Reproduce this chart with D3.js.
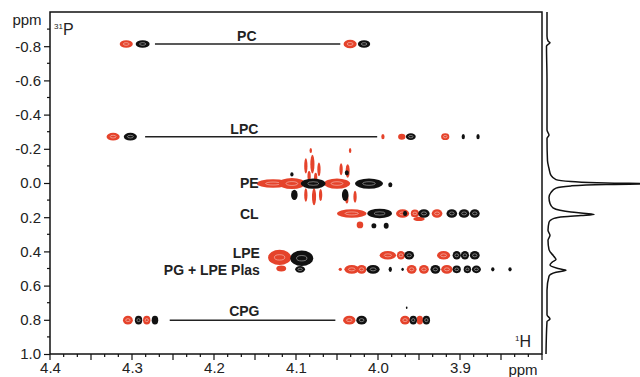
<!DOCTYPE html>
<html>
<head>
<meta charset="utf-8">
<script src="https://cdn.jsdelivr.net/npm/d3@7"></script>
<style>
  body { margin: 0; background: #fff; }
  svg { display: block; font-family: "Liberation Sans", Arial, sans-serif; }
</style>
</head>
<body>
<div id="chart"></div>
<script>
// 1H ppm, 31P ppm, 1H linewidth, 31P linewidth
const redPeaks = [
  [4.307, -0.813, 0.016, 0.045], [4.034, -0.813, 0.016, 0.05],
  [4.323, -0.271, 0.016, 0.045], [3.994, -0.271, 0.004, 0.03], [3.971, -0.271, 0.009, 0.035], [3.918, -0.271, 0.010, 0.04],
  [4.128, 0.003, 0.040, 0.05], [4.105, 0.003, 0.032, 0.065],
  [4.088, -0.10, 0.004, 0.09], [4.080, -0.11, 0.005, 0.11], [4.072, -0.08, 0.004, 0.08],
  [4.084, -0.04, 0.004, 0.06], [4.076, -0.03, 0.004, 0.06],
  [4.088, 0.07, 0.004, 0.08], [4.078, 0.08, 0.005, 0.10], [4.070, 0.07, 0.004, 0.07],
  [4.082, -0.19, 0.003, 0.03], [4.034, -0.19, 0.003, 0.03],
  [4.050, 0.003, 0.032, 0.06], [4.045, -0.08, 0.004, 0.07], [4.037, -0.07, 0.005, 0.08],
  [4.028, 0.08, 0.004, 0.07], [4.038, 0.09, 0.004, 0.06],
  [4.032, 0.178, 0.036, 0.05], [3.970, 0.178, 0.016, 0.05], [3.955, 0.178, 0.010, 0.045], [3.928, 0.178, 0.013, 0.05],
  [4.022, 0.245, 0.008, 0.04], [3.950, 0.21, 0.014, 0.025],
  [4.120, 0.435, 0.028, 0.09], [4.118, 0.50, 0.012, 0.035],
  [3.988, 0.423, 0.020, 0.05], [3.972, 0.423, 0.010, 0.05], [3.920, 0.423, 0.016, 0.05],
  [4.046, 0.505, 0.004, 0.02], [4.032, 0.505, 0.018, 0.05], [4.020, 0.505, 0.012, 0.05],
  [3.959, 0.505, 0.012, 0.05], [3.944, 0.505, 0.012, 0.05], [3.916, 0.505, 0.014, 0.05],
  [4.305, 0.802, 0.012, 0.05], [4.282, 0.802, 0.009, 0.05], [4.035, 0.802, 0.015, 0.05],
  [3.967, 0.802, 0.012, 0.05], [3.949, 0.802, 0.008, 0.05]
];
const blackPeaks = [
  [4.287, -0.813, 0.017, 0.045], [4.017, -0.813, 0.015, 0.045],
  [4.302, -0.271, 0.016, 0.045], [3.960, -0.271, 0.012, 0.04], [3.896, -0.271, 0.004, 0.03], [3.878, -0.271, 0.004, 0.03],
  [4.079, 0.003, 0.030, 0.06], [4.011, 0.003, 0.034, 0.06], [3.985, 0.01, 0.005, 0.03],
  [4.102, 0.07, 0.008, 0.06], [4.105, -0.05, 0.004, 0.025], [4.040, 0.07, 0.008, 0.07], [4.038, -0.06, 0.005, 0.03],
  [3.998, 0.178, 0.030, 0.055], [3.967, 0.178, 0.005, 0.03], [3.944, 0.178, 0.014, 0.05],
  [3.910, 0.178, 0.013, 0.05], [3.895, 0.178, 0.013, 0.05], [3.882, 0.178, 0.012, 0.05],
  [4.005, 0.25, 0.006, 0.03], [3.990, 0.25, 0.006, 0.035],
  [4.093, 0.44, 0.028, 0.09], [4.095, 0.505, 0.012, 0.04],
  [3.962, 0.423, 0.012, 0.05], [3.904, 0.423, 0.010, 0.05], [3.894, 0.423, 0.010, 0.05], [3.882, 0.423, 0.012, 0.05],
  [4.006, 0.505, 0.016, 0.05], [3.985, 0.505, 0.004, 0.03], [3.970, 0.505, 0.003, 0.02], [3.930, 0.505, 0.012, 0.05],
  [3.904, 0.505, 0.010, 0.045], [3.891, 0.505, 0.009, 0.045], [3.880, 0.505, 0.011, 0.045],
  [3.860, 0.505, 0.004, 0.025], [3.839, 0.505, 0.004, 0.025],
  [4.292, 0.802, 0.009, 0.05], [4.272, 0.802, 0.008, 0.05], [4.020, 0.802, 0.013, 0.05],
  [3.957, 0.802, 0.009, 0.05], [3.941, 0.802, 0.009, 0.05], [3.965, 0.73, 0.002, 0.015]
];

// correlation lines: from 1H, to 1H, at 31P
const links = [[4.272, 4.046, -0.813], [4.284, 4.001, -0.271], [4.254, 4.052, 0.802]];

// labels: text, 1H, 31P, anchor
const labels = [
  ['PC', 4.160, -0.83, 'middle'],
  ['LPC', 4.163, -0.287, 'middle'],
  ['PE', 4.157, 0.032, 'middle'],
  ['CL', 4.157, 0.212, 'middle'],
  ['LPE', 4.144, 0.44, 'end'],
  ['PG + LPE Plas', 4.144, 0.54, 'end'],
  ['CPG', 4.163, 0.776, 'middle']
];

// 31P projection: ppm and intensity
const projP = [-1.0, -0.86, -0.83, -0.82, -0.81, -0.80, -0.60, -0.31, -0.28, -0.26, -0.13, -0.085, -0.044, -0.02, -0.009,
  0.0, 0.005, 0.009, 0.017, 0.03, 0.055, 0.085, 0.12, 0.145, 0.16, 0.17, 0.178, 0.184, 0.19, 0.197, 0.207, 0.23,
  0.277, 0.306, 0.335, 0.39, 0.43, 0.447, 0.464, 0.48, 0.50, 0.51, 0.522, 0.545, 0.627, 0.77, 0.796, 0.81, 1.0];
const projI = [1, 1, 2, 4, 2, 0.5, 1, 1, 3, 1, 1.5, 3, 5, 10, 25,
  60, 110, 60, 25, 10, 5, 3, 4, 7, 14, 25, 40, 48, 35, 18, 8, 3,
  2, 4, 2, 3, 8, 10, 6, 4, 12, 20, 10, 3, 1, 1, 4, 1, 0];

const W = 640, H = 377;
const svg = d3.select('#chart').append('svg').attr('width', W).attr('height', H);

const x = d3.scaleLinear().domain([4.4, 3.8]).range([50, 542]);
const y = d3.scaleLinear().domain([-1.0, 1.0]).range([12, 354]);
const xi = d3.scaleLinear().domain([0, 95]).range([546, 641]);

const red = '#e5432b', black = '#111';

function drawPeaks(data, color) {
  const g = svg.append('g');
  data.forEach(([h, p, wh, wp]) => {
    const rx = Math.abs(x(h + wh / 2) - x(h - wh / 2)) / 2;
    const ry = Math.abs(y(p + wp / 2) - y(p - wp / 2)) / 2;
    g.append('ellipse').attr('cx', x(h)).attr('cy', y(p)).attr('rx', rx).attr('ry', ry)
      .attr('fill', color);
    if (rx > 3.5 && ry > 3) {
      g.append('ellipse').attr('cx', x(h)).attr('cy', y(p)).attr('rx', rx * 0.45).attr('ry', ry * 0.35)
        .attr('fill', 'none').attr('stroke', '#fff').attr('stroke-width', 0.7).attr('opacity', 0.6);
    }
  });
}

// connectors
svg.append('g').selectAll('line').data(links).join('line')
  .attr('x1', d => x(d[0])).attr('x2', d => x(d[1]))
  .attr('y1', d => y(d[2])).attr('y2', d => y(d[2]))
  .attr('stroke', '#222').attr('stroke-width', 1.5);

drawPeaks(redPeaks, red);
drawPeaks(blackPeaks, black);

// labels
svg.append('g').selectAll('text').data(labels).join('text')
  .attr('x', d => x(d[1])).attr('y', d => y(d[2]))
  .attr('text-anchor', d => d[3])
  .attr('font-size', 14).attr('font-weight', 'bold').attr('fill', '#222')
  .text(d => d[0]);

// frame
svg.append('rect').attr('x', 50).attr('y', 12).attr('width', 492).attr('height', 342)
  .attr('fill', 'none').attr('stroke', '#111').attr('stroke-width', 1.5);

// x axis
const xAxis = d3.axisBottom(x)
  .tickValues([4.4, 4.3, 4.2, 4.1, 4.0, 3.9])
  .tickFormat(d => d.toFixed(1))
  .tickSize(0).tickPadding(8);
const gx = svg.append('g').attr('transform', 'translate(0,354)').call(xAxis);
gx.select('.domain').remove();
gx.selectAll('text').attr('font-size', 15).attr('fill', '#222').attr('font-family', null);
const xMinor = d3.range(0, 37).map(i => 4.4 - i * 0.1 / 6);
svg.append('g').selectAll('line').data(xMinor).join('line')
  .attr('x1', d => x(d)).attr('x2', d => x(d))
  .attr('y1', 354).attr('y2', (d, i) => i % 3 === 0 ? 360 : 357)
  .attr('stroke', '#111').attr('stroke-width', 1.2);
svg.append('text').attr('x', 523).attr('y', 375).attr('text-anchor', 'middle')
  .attr('font-size', 15).attr('fill', '#222').text('ppm');

// y axis
const yAxis = d3.axisLeft(y)
  .tickValues([-0.8, -0.6, -0.4, -0.2, 0.0, 0.2, 0.4, 0.6, 0.8, 1.0])
  .tickFormat(d => d.toFixed(1))
  .tickSize(6).tickPadding(3);
const gy = svg.append('g').attr('transform', 'translate(50,0)').call(yAxis);
gy.select('.domain').remove();
gy.selectAll('line').attr('stroke', '#111').attr('stroke-width', 1.2);
gy.selectAll('text').attr('font-size', 15).attr('fill', '#222').attr('font-family', null);
svg.append('g').selectAll('line').data(d3.range(-0.9, 1.0, 0.2)).join('line')
  .attr('x1', 50).attr('x2', 47)
  .attr('y1', d => y(d)).attr('y2', d => y(d))
  .attr('stroke', '#111').attr('stroke-width', 1.2);
svg.append('text').attr('x', 27).attr('y', 25).attr('text-anchor', 'middle')
  .attr('font-size', 15).attr('fill', '#222').text('ppm');

// nucleus labels
const t31 = svg.append('text').attr('x', 54).attr('y', 35).attr('fill', '#222');
t31.append('tspan').attr('font-size', 8).attr('dy', -6).text('31');
t31.append('tspan').attr('font-size', 16).attr('dy', 6).text('P');
const t1 = svg.append('text').attr('x', 515).attr('y', 347).attr('fill', '#222');
t1.append('tspan').attr('font-size', 8).attr('dy', -6).text('1');
t1.append('tspan').attr('font-size', 16).attr('dy', 6).text('H');

// 31P projection
const proj = projP.map((p, i) => [projI[i], p]);
svg.append('path').datum(proj)
  .attr('d', d3.line().x(d => xi(d[0])).y(d => y(d[1])).curve(d3.curveMonotoneY))
  .attr('fill', 'none').attr('stroke', '#111').attr('stroke-width', 1.5);
</script>
</body>
</html>
